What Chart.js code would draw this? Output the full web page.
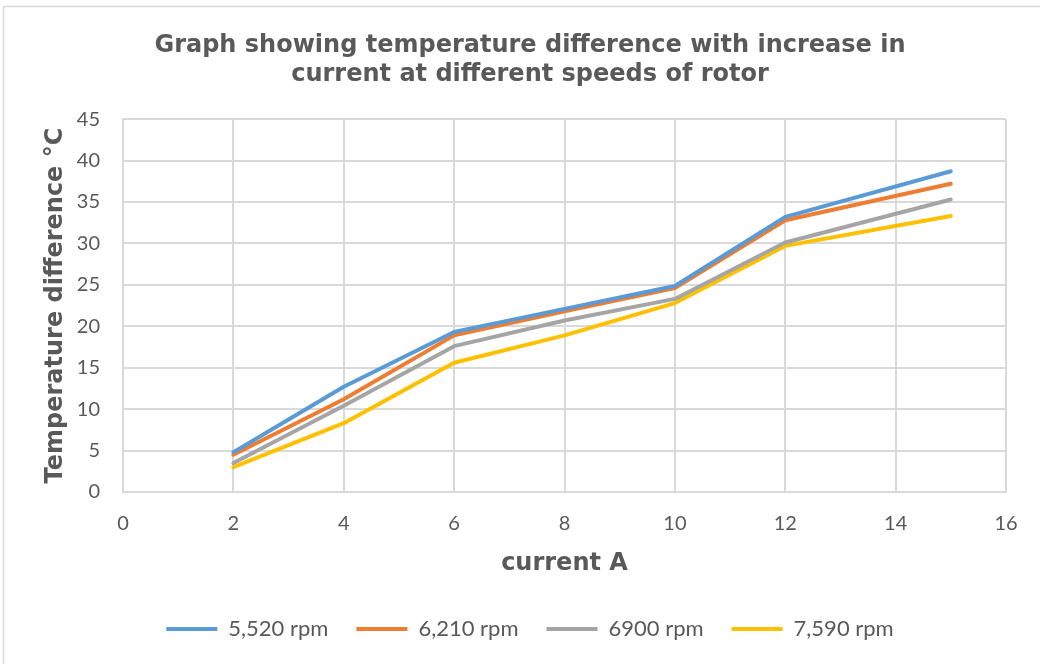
<!DOCTYPE html>
<html>
<head>
<meta charset="utf-8">
<script src="https://cdn.jsdelivr.net/npm/chart.js@4/dist/chart.umd.min.js"></script>
<style>
html,body{margin:0;padding:0;background:#fff;}
canvas{display:block;}
</style>
</head>
<body>
<canvas id="c" width="1040" height="664"></canvas>
<script>
const currents = [2, 4, 6, 8, 10, 12, 15];
const rpm5520 = [4.8, 12.7, 19.3, 22.1, 24.85, 33.2, 38.7];
const rpm6210 = [4.5, 11.2, 18.9, 21.8, 24.6, 32.8, 37.2];
const rpm6900 = [3.5, 10.4, 17.6, 20.7, 23.3, 30.1, 35.3];
const rpm7590 = [3.0, 8.3, 15.6, 18.9, 22.8, 29.7, 33.3];
const seriesNames = ['5,520 rpm', '6,210 rpm', '6900 rpm', '7,590 rpm'];
const seriesColors = ['#5B9BD5', '#ED7D31', '#A5A5A5', '#FFC000'];
const xTicks = [0, 2, 4, 6, 8, 10, 12, 14, 16];
const yTicks = [0, 5, 10, 15, 20, 25, 30, 35, 40, 45];
const titleLines = ['Graph showing temperature difference with increase in', 'current at different speeds of rotor'];
const xTitle = 'current A';
const yTitle = 'Temperature difference °C';

const allSeries = [rpm5520, rpm6210, rpm6900, rpm7590];
const datasets = allSeries.map((vals, i) => ({
  label: seriesNames[i],
  data: vals.map((v, j) => ({x: currents[j], y: v})),
  borderColor: seriesColors[i],
  backgroundColor: seriesColors[i],
  borderWidth: 4,
  pointRadius: 0,
  tension: 0,
  borderCapStyle: 'round',
  borderJoinStyle: 'round',
  fill: false
}));

const frame = {
  id: 'frame',
  beforeDraw(chart) {
    const ctx = chart.ctx;
    ctx.save();
    ctx.fillStyle = '#fff';
    ctx.fillRect(0, 0, chart.width, chart.height);
    ctx.strokeStyle = '#d9d9d9';
    ctx.lineWidth = 1.5;
    ctx.strokeRect(3.5, 6.5, 1100, 700);
    ctx.restore();
  }
};

const textColor = '#595959';
const gridColor = '#d9d9d9';

new Chart(document.getElementById('c'), {
  type: 'line',
  data: { datasets },
  plugins: [frame],
  options: {
    responsive: false,
    animation: false,
    layout: { padding: { left: 54, right: 34, top: 0, bottom: 14 } },
    plugins: {
      title: {
        display: true,
        text: titleLines,
        color: textColor,
        font: { family: 'DejaVu Sans', weight: 'bold', size: 24, lineHeight: 1.21 },
        padding: { top: 31, bottom: 30 }
      },
      legend: {
        display: true,
        position: 'bottom',
        labels: {
          color: textColor,
          font: { family: 'Lato', size: 22 },
          boxWidth: 51,
          boxHeight: 4,
          padding: 28,
          generateLabels(chart) {
            return chart.data.datasets.map((d, i) => ({
              text: d.label,
              fillStyle: d.borderColor,
              strokeStyle: d.borderColor,
              lineWidth: 0,
              hidden: false,
              datasetIndex: i,
              fontColor: textColor
            }));
          }
        }
      },
      tooltip: { enabled: false }
    },
    scales: {
      x: {
        type: 'linear',
        min: xTicks[0],
        max: xTicks[xTicks.length - 1],
        afterBuildTicks(s) { s.ticks = xTicks.map(v => ({value: v})); },
        afterFit(s) { s.height = 98; },
        grid: { color: gridColor, lineWidth: 2, drawTicks: false },
        border: { color: gridColor, width: 2 },
        ticks: { color: textColor, font: { family: 'Lato', size: 20 }, padding: 20, maxRotation: 0 },
        title: {
          display: true,
          text: xTitle,
          color: textColor,
          font: { family: 'DejaVu Sans', weight: 'bold', size: 24 },
          padding: { top: 0, bottom: 12 }
        }
      },
      y: {
        type: 'linear',
        min: yTicks[0],
        max: yTicks[yTicks.length - 1],
        afterBuildTicks(s) { s.ticks = yTicks.map(v => ({value: v})); },
        afterFit(s) { s.width = 69; },
        grid: { color: gridColor, lineWidth: 2, drawTicks: false },
        border: { color: gridColor, width: 2 },
        ticks: { color: textColor, font: { family: 'Lato', size: 20 }, padding: 23 },
        title: {
          display: true,
          text: yTitle,
          color: textColor,
          font: { family: 'DejaVu Sans', weight: 'bold', size: 24 },
          padding: { top: -13, bottom: 0 }
        }
      }
    }
  }
});
</script>
</body>
</html>
